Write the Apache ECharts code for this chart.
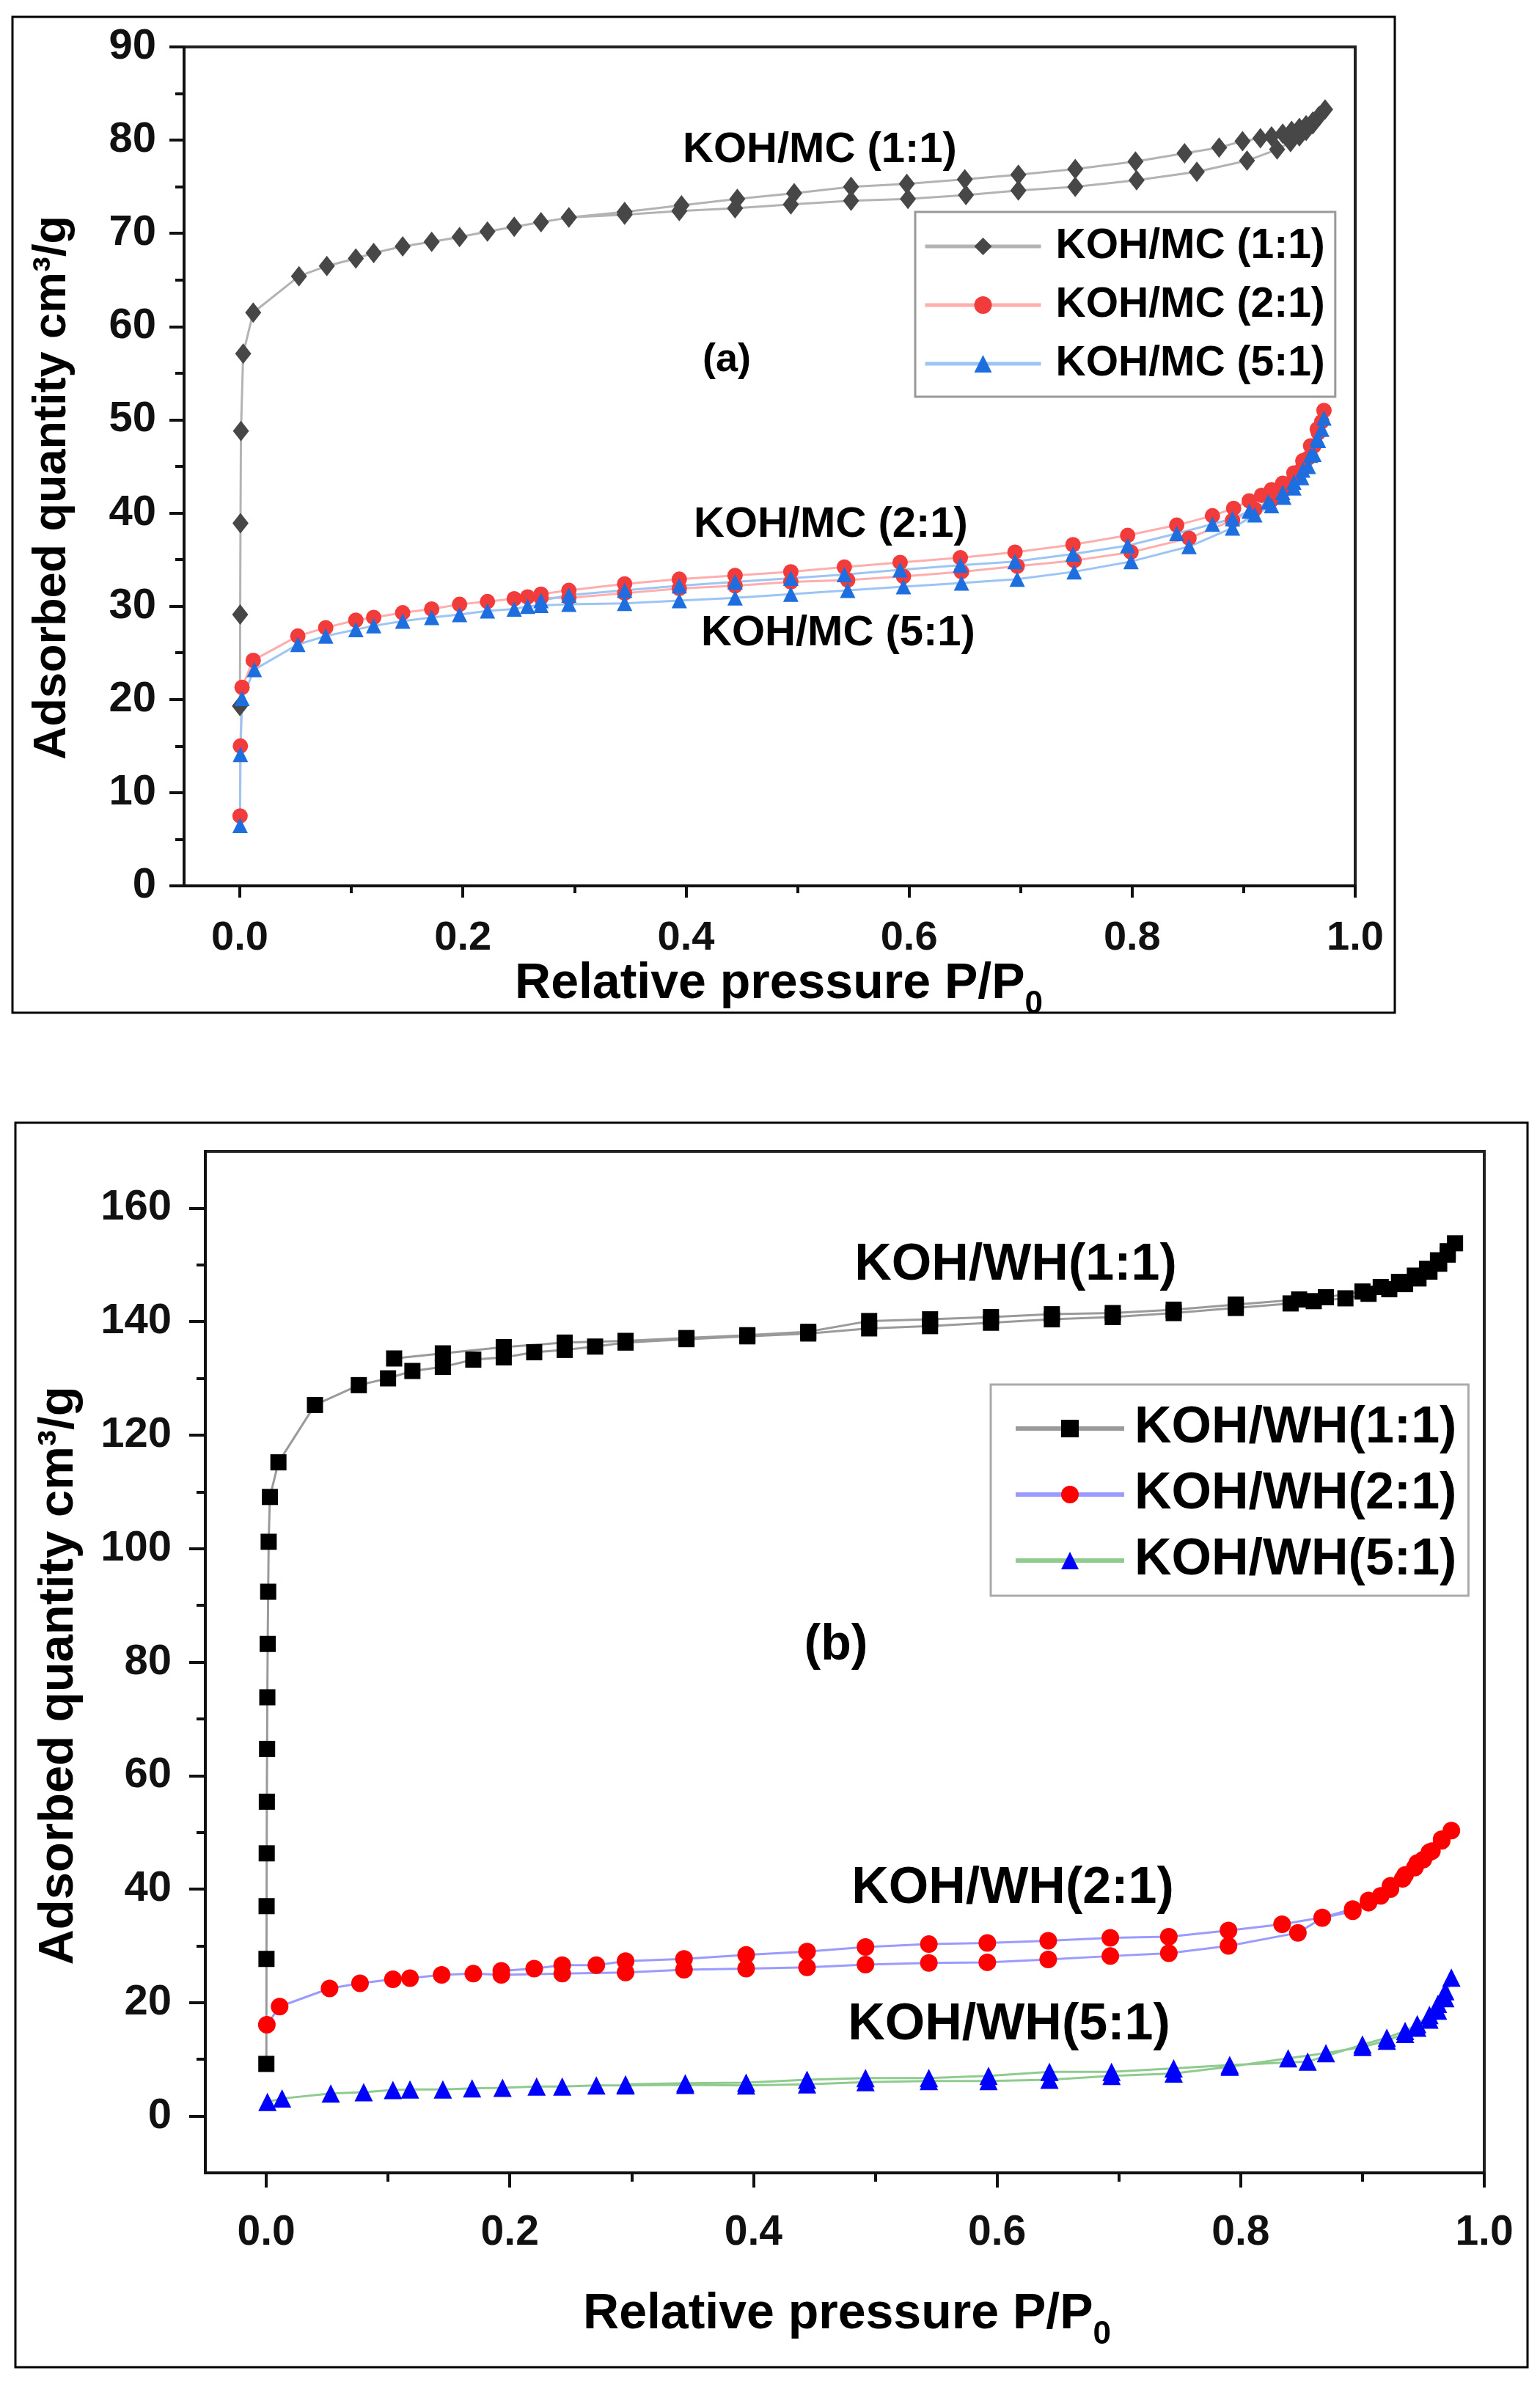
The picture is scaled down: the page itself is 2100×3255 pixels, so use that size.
<!DOCTYPE html>
<html>
<head>
<meta charset="utf-8">
<script src="https://cdn.jsdelivr.net/npm/echarts@6/dist/echarts.min.js"></script>
<style>
html,body{margin:0;padding:0;background:#fff;}
#chart{width:2100px;height:3255px;}
</style>
</head>
<body>
<div id="chart"></div>
<script>
// ---------- DATA (P/P0, adsorbed quantity) ----------
// Panel (a): KOH/MC
const mc11Ads = [[0.0001,19.3],[0.0003,29.1],[0.0006,38.9],[0.001,48.8],[0.003,57.1],[0.012,61.5],[0.053,65.4],[0.078,66.5],[0.104,67.3],[0.12,67.9],[0.146,68.6],[0.172,69.1],[0.197,69.6],[0.222,70.2],[0.246,70.7],[0.27,71.2],[0.295,71.7],[0.345,72.0],[0.394,72.4],[0.444,72.7],[0.494,73.1],[0.548,73.5],[0.599,73.7],[0.651,74.1],[0.698,74.6],[0.749,75.0],[0.804,75.7],[0.858,76.6],[0.903,77.8],[0.93,79.0],[0.942,79.8],[0.95,80.4],[0.956,81.0],[0.962,81.7],[0.967,82.5],[0.973,83.3]];
const mc11Des = [[0.968,82.6],[0.962,82.0],[0.956,81.6],[0.95,81.3],[0.943,81.0],[0.935,80.7],[0.925,80.4],[0.915,80.2],[0.899,79.9],[0.878,79.2],[0.847,78.6],[0.803,77.7],[0.749,76.9],[0.698,76.3],[0.65,75.8],[0.598,75.3],[0.548,75.0],[0.497,74.3],[0.446,73.7],[0.396,73.0],[0.345,72.3],[0.295,71.7]];
const mc21Ads = [[0.0002,7.5],[0.0005,15.0],[0.002,21.3],[0.012,24.2],[0.052,26.8],[0.077,27.7],[0.104,28.5],[0.12,28.8],[0.146,29.3],[0.172,29.7],[0.197,30.2],[0.222,30.5],[0.246,30.8],[0.258,31.0],[0.27,30.9],[0.295,30.9],[0.345,31.4],[0.394,31.9],[0.444,32.2],[0.494,32.6],[0.545,32.8],[0.595,33.2],[0.647,33.7],[0.697,34.3],[0.748,34.9],[0.799,35.8],[0.851,37.3],[0.89,39.2],[0.91,40.4],[0.925,41.4],[0.936,42.5],[0.945,43.6],[0.952,44.7],[0.958,45.9],[0.963,47.2],[0.967,48.6],[0.97,49.8],[0.972,51.0]];
const mc21Des = [[0.966,49.0],[0.96,47.2],[0.953,45.6],[0.945,44.3],[0.935,43.2],[0.925,42.5],[0.916,41.9],[0.905,41.3],[0.891,40.5],[0.872,39.7],[0.84,38.7],[0.796,37.6],[0.747,36.6],[0.695,35.8],[0.646,35.2],[0.592,34.7],[0.542,34.2],[0.494,33.7],[0.444,33.3],[0.394,32.9],[0.345,32.4],[0.295,31.7],[0.27,31.3]];
const mc51Ads = [[0.0002,6.5],[0.0005,14.1],[0.002,20.1],[0.013,23.2],[0.052,25.9],[0.077,26.8],[0.104,27.5],[0.12,27.9],[0.146,28.4],[0.172,28.8],[0.197,29.1],[0.222,29.5],[0.246,29.7],[0.258,30.0],[0.27,30.1],[0.295,30.2],[0.345,30.3],[0.394,30.6],[0.444,30.9],[0.494,31.3],[0.545,31.7],[0.595,32.1],[0.647,32.5],[0.697,32.9],[0.748,33.7],[0.799,34.8],[0.851,36.4],[0.89,38.4],[0.91,39.8],[0.925,40.8],[0.936,41.7],[0.945,42.7],[0.952,43.8],[0.958,45.0],[0.963,46.3],[0.967,47.8],[0.97,49.0],[0.972,50.2]];
const mc51Des = [[0.966,48.0],[0.96,46.2],[0.953,44.6],[0.945,43.3],[0.935,42.2],[0.922,41.2],[0.905,40.2],[0.89,39.4],[0.872,38.8],[0.84,37.8],[0.796,36.5],[0.747,35.6],[0.695,34.8],[0.646,34.4],[0.592,33.9],[0.542,33.4],[0.494,33.0],[0.444,32.6],[0.394,32.2],[0.345,31.7],[0.295,31.2],[0.27,30.6]];

// Panel (b): KOH/WH
const wh11Ads = [[0.0001,9.2],[0.0002,27.7],[0.0003,37.0],[0.0004,46.3],[0.0005,55.4],[0.0007,64.7],[0.0009,73.8],[0.0012,83.2],[0.0016,92.4],[0.002,101.2],[0.003,109.1],[0.01,115.2],[0.04,125.3],[0.076,128.8],[0.1,130.0],[0.12,131.3],[0.145,132.0],[0.17,133.3],[0.195,133.7],[0.22,134.6],[0.245,135.0],[0.27,135.6],[0.295,136.3],[0.345,136.9],[0.395,137.4],[0.445,137.9],[0.495,138.8],[0.545,139.2],[0.595,139.8],[0.645,140.4],[0.695,140.8],[0.745,141.5],[0.796,142.4],[0.841,143.2],[0.86,143.6],[0.886,144.1],[0.905,144.9],[0.922,145.7],[0.935,146.6],[0.946,147.6],[0.955,148.8],[0.963,150.2],[0.97,151.8],[0.976,153.8]];
const wh11Des = [[0.97,152.4],[0.962,150.8],[0.953,149.3],[0.943,148.1],[0.93,147.0],[0.915,146.1],[0.9,145.3],[0.87,144.3],[0.848,143.9],[0.796,143.0],[0.745,142.1],[0.695,141.5],[0.645,141.3],[0.595,140.8],[0.545,140.4],[0.495,140.1],[0.445,138.2],[0.395,137.6],[0.345,137.1],[0.295,136.6],[0.245,136.3],[0.195,135.5],[0.145,134.4],[0.105,133.5]];
const wh21Ads = [[0.0005,16.1],[0.011,19.3],[0.052,22.5],[0.077,23.4],[0.104,24.1],[0.118,24.3],[0.144,24.9],[0.17,25.1],[0.193,24.9],[0.243,25.1],[0.295,25.3],[0.343,25.8],[0.394,26.0],[0.444,26.2],[0.492,26.7],[0.544,27.0],[0.592,27.1],[0.642,27.6],[0.693,28.2],[0.741,28.7],[0.79,30.0],[0.847,32.3],[0.867,34.9],[0.892,36.1],[0.905,37.6],[0.915,38.8],[0.923,40.0],[0.933,41.8],[0.943,43.8],[0.95,45.2],[0.957,46.7],[0.965,48.5],[0.973,50.3]];
const wh21Des = [[0.965,48.8],[0.955,46.5],[0.945,44.6],[0.935,42.5],[0.923,40.6],[0.905,38.0],[0.892,36.5],[0.867,35.0],[0.834,33.8],[0.79,32.7],[0.741,31.6],[0.693,31.4],[0.642,30.9],[0.592,30.5],[0.544,30.3],[0.492,29.8],[0.444,29.0],[0.394,28.4],[0.343,27.7],[0.295,27.3],[0.271,26.6],[0.243,26.6],[0.22,26.0],[0.193,25.6]];
const wh51Ads = [[0.001,2.5],[0.013,3.1],[0.053,4.0],[0.08,4.2],[0.104,4.6],[0.118,4.7],[0.145,4.7],[0.169,4.9],[0.194,5.0],[0.222,5.2],[0.243,5.2],[0.271,5.4],[0.295,5.4],[0.344,5.5],[0.394,5.4],[0.444,5.6],[0.492,6.0],[0.544,6.2],[0.593,6.2],[0.643,6.4],[0.694,7.1],[0.745,7.5],[0.791,8.7],[0.839,10.2],[0.87,11.1],[0.9,12.2],[0.92,13.3],[0.935,14.5],[0.945,15.6],[0.955,17.0],[0.962,18.6],[0.968,20.8],[0.973,24.4]];
const wh51Des = [[0.968,22.0],[0.962,19.8],[0.955,17.8],[0.945,16.2],[0.935,15.0],[0.92,13.8],[0.9,12.6],[0.855,9.6],[0.791,9.0],[0.745,8.4],[0.694,7.8],[0.643,7.8],[0.593,7.1],[0.544,6.7],[0.492,6.7],[0.444,6.4],[0.394,5.9],[0.344,5.8],[0.295,5.6]];

// Tick values / labels
const xTicks = [0, 0.2, 0.4, 0.6, 0.8, 1.0];
const xMinorTicks = [0.1, 0.3, 0.5, 0.7, 0.9];
const yTicksB = [0, 20, 40, 60, 80, 100, 120, 140, 160];
const yMinorTicksB = [10, 30, 50, 70, 90, 110, 130, 150];
const namesA = ['KOH/MC (1:1)', 'KOH/MC (2:1)', 'KOH/MC (5:1)'];
const namesB = ['KOH/WH(1:1)', 'KOH/WH(2:1)', 'KOH/WH(5:1)'];

// ---------- CHART ----------
const FF = '"Liberation Sans", Arial, Helvetica, sans-serif';
const chart = echarts.init(document.getElementById('chart'), null, {renderer: 'canvas'});

function xAxisMain(grid, fs, margin, tickLen) {
  return {
    gridIndex: grid, type: 'value', min: -0.05, max: 1.0, position: 'bottom',
    axisLine: {show: true, onZero: false, lineStyle: {color: '#111', width: 4}},
    axisTick: {show: true, customValues: xTicks, length: tickLen, lineStyle: {color: '#111', width: 4}},
    axisLabel: {show: true, customValues: xTicks, margin: margin, fontSize: fs, fontWeight: 'bold', fontFamily: FF, color: '#111',
      formatter: v => Number(v).toFixed(1)},
    splitLine: {show: false}
  };
}
function xAxisMinor(grid, tickLen) {
  return {
    gridIndex: grid, type: 'value', min: -0.05, max: 1.0, position: 'bottom',
    axisLine: {show: false, onZero: false},
    axisTick: {show: true, customValues: xMinorTicks, length: tickLen, lineStyle: {color: '#111', width: 4}},
    axisLabel: {show: false}, splitLine: {show: false}
  };
}

const option = {
  backgroundColor: '#fff',
  animation: false,
  grid: [
    {left: 251, top: 64, width: 1597, height: 1144, show: true, borderColor: '#222', borderWidth: 4, backgroundColor: 'transparent', outerBoundsMode: 'none'},
    {left: 280, top: 1570, width: 1744, height: 1393, show: true, borderColor: '#222', borderWidth: 4, backgroundColor: 'transparent', outerBoundsMode: 'none'}
  ],
  xAxis: [
    xAxisMain(0, 56, 44, 16),
    xAxisMinor(0, 10),
    xAxisMain(1, 57, 54, 20),
    xAxisMinor(1, 12)
  ],
  yAxis: [
    {gridIndex: 0, type: 'value', min: 0, max: 90, interval: 10, position: 'left',
     axisLine: {show: true, onZero: false, lineStyle: {color: '#111', width: 4}},
     axisTick: {show: true, length: 20, lineStyle: {color: '#111', width: 4}},
     minorTick: {show: true, splitNumber: 2, length: 12, lineStyle: {color: '#111', width: 4}},
     axisLabel: {margin: 38, fontSize: 58, fontWeight: 'bold', fontFamily: FF, color: '#111'},
     splitLine: {show: false}},
    {gridIndex: 1, type: 'value', min: -10, max: 170, position: 'left',
     axisLine: {show: true, onZero: false, lineStyle: {color: '#111', width: 4}},
     axisTick: {show: true, customValues: yTicksB, length: 22, lineStyle: {color: '#111', width: 4}},
     axisLabel: {show: true, customValues: yTicksB, margin: 46, fontSize: 58, fontWeight: 'bold', fontFamily: FF, color: '#111'},
     splitLine: {show: false}},
    {gridIndex: 1, type: 'value', min: -10, max: 170, position: 'left',
     axisLine: {show: false, onZero: false},
     axisTick: {show: true, customValues: yMinorTicksB, length: 12, lineStyle: {color: '#111', width: 4}},
     axisLabel: {show: false}, splitLine: {show: false}}
  ],
  legend: [
    {data: namesA, orient: 'vertical', left: 1248, top: 289, padding: [13, 14, 11, 11],
     itemWidth: 158, itemHeight: 30, itemGap: 12,
     borderColor: '#999', borderWidth: 3, backgroundColor: '#fff',
     lineStyle: {width: 5},
     textStyle: {fontSize: 57, fontWeight: 'bold', fontFamily: FF, color: '#000', lineHeight: 68, padding: [0, 0, 0, 15]}},
    {data: namesB, orient: 'vertical', left: 1351, top: 1888, padding: [22, 16, 10, 31],
     itemWidth: 148, itemHeight: 30, itemGap: 14,
     borderColor: '#aaa', borderWidth: 3, backgroundColor: '#fff',
     lineStyle: {width: 6},
     textStyle: {fontSize: 70, fontWeight: 'bold', fontFamily: FF, color: '#000', lineHeight: 76, padding: [0, 0, 0, 9]}}
  ],
  series: [
    {name: namesA[0], type: 'line', xAxisIndex: 0, yAxisIndex: 0, data: mc11Ads.concat(mc11Des),
     symbol: 'diamond', symbolSize: [22, 28], itemStyle: {color: '#474747'}, lineStyle: {color: '#b3b3b3', width: 3}},
    {name: namesA[1], type: 'line', xAxisIndex: 0, yAxisIndex: 0, data: mc21Ads.concat(mc21Des),
     symbol: 'circle', symbolSize: 21, itemStyle: {color: '#f23b3b'}, lineStyle: {color: '#ffadad', width: 3}},
    {name: namesA[2], type: 'line', xAxisIndex: 0, yAxisIndex: 0, data: mc51Ads.concat(mc51Des),
     symbol: 'triangle', symbolSize: 21, itemStyle: {color: '#1f6ee0'}, lineStyle: {color: '#9cc4f5', width: 3}},
    {name: namesB[0], type: 'line', xAxisIndex: 2, yAxisIndex: 1, data: wh11Ads.concat(wh11Des),
     symbol: 'rect', symbolSize: 22, itemStyle: {color: '#000'}, lineStyle: {color: '#9a9a9a', width: 3}},
    {name: namesB[1], type: 'line', xAxisIndex: 2, yAxisIndex: 1, data: wh21Ads.concat(wh21Des),
     symbol: 'circle', symbolSize: 24, itemStyle: {color: '#ff0000'}, lineStyle: {color: '#9b9bff', width: 3}},
    {name: namesB[2], type: 'line', xAxisIndex: 2, yAxisIndex: 1, data: wh51Ads.concat(wh51Des),
     symbol: 'triangle', symbolSize: 25, itemStyle: {color: '#0000ff'}, lineStyle: {color: '#8fcb8f', width: 3}}
  ],
  graphic: [
    // panel frames
    {type: 'rect', shape: {x: 17, y: 23, width: 1885, height: 1358}, style: {fill: 'none', stroke: '#000', lineWidth: 3}, silent: true},
    {type: 'rect', shape: {x: 21, y: 1531, width: 2062, height: 1697}, style: {fill: 'none', stroke: '#000', lineWidth: 3}, silent: true},
    // annotations panel a
    {type: 'text', x: 1118, y: 205, style: {text: 'KOH/MC (1:1)', font: 'bold 58px ' + FF, fill: '#000', textAlign: 'center', textVerticalAlign: 'middle', align: 'center', verticalAlign: 'middle'}},
    {type: 'text', x: 991, y: 491, style: {text: '(a)', font: 'bold 54px ' + FF, fill: '#000', textAlign: 'center', textVerticalAlign: 'middle', align: 'center', verticalAlign: 'middle'}},
    {type: 'text', x: 1133, y: 716, style: {text: 'KOH/MC (2:1)', font: 'bold 58px ' + FF, fill: '#000', textAlign: 'center', textVerticalAlign: 'middle', align: 'center', verticalAlign: 'middle'}},
    {type: 'text', x: 1143, y: 864, style: {text: 'KOH/MC (5:1)', font: 'bold 58px ' + FF, fill: '#000', textAlign: 'center', textVerticalAlign: 'middle', align: 'center', verticalAlign: 'middle'}},
    // annotations panel b
    {type: 'text', x: 1385, y: 1726, style: {text: 'KOH/WH(1:1)', font: 'bold 70px ' + FF, fill: '#000', textAlign: 'center', textVerticalAlign: 'middle', align: 'center', verticalAlign: 'middle'}},
    {type: 'text', x: 1140, y: 2244, style: {text: '(b)', font: 'bold 68px ' + FF, fill: '#000', textAlign: 'center', textVerticalAlign: 'middle', align: 'center', verticalAlign: 'middle'}},
    {type: 'text', x: 1381, y: 2576, style: {text: 'KOH/WH(2:1)', font: 'bold 70px ' + FF, fill: '#000', textAlign: 'center', textVerticalAlign: 'middle', align: 'center', verticalAlign: 'middle'}},
    {type: 'text', x: 1376, y: 2762, style: {text: 'KOH/WH(5:1)', font: 'bold 70px ' + FF, fill: '#000', textAlign: 'center', textVerticalAlign: 'middle', align: 'center', verticalAlign: 'middle'}},
    // axis titles
    {type: 'text', x: 1062, y: 1342, style: {text: '{m|Relative pressure P/P}{s|0}', textAlign: 'center', textVerticalAlign: 'middle', align: 'center', verticalAlign: 'middle',
      rich: {m: {fontSize: 68, fontWeight: 'bold', fontFamily: FF, fill: '#000', color: '#000', lineHeight: 100},
             s: {fontSize: 44, fontWeight: 'bold', fontFamily: FF, fill: '#000', color: '#000', lineHeight: 44, verticalAlign: 'bottom'}}}},
    {type: 'text', x: 1155, y: 3156, style: {text: '{m|Relative pressure P/P}{s|0}', textAlign: 'center', textVerticalAlign: 'middle', align: 'center', verticalAlign: 'middle',
      rich: {m: {fontSize: 68, fontWeight: 'bold', fontFamily: FF, fill: '#000', color: '#000', lineHeight: 100},
             s: {fontSize: 44, fontWeight: 'bold', fontFamily: FF, fill: '#000', color: '#000', lineHeight: 44, verticalAlign: 'bottom'}}}},
    {type: 'text', x: 72, y: 665, rotation: Math.PI / 2, style: {text: 'Adsorbed quantity cm³/g', font: 'bold 63px ' + FF, fill: '#000', textAlign: 'center', textVerticalAlign: 'middle', align: 'center', verticalAlign: 'middle'}},
    {type: 'text', x: 81, y: 2285, rotation: Math.PI / 2, style: {text: 'Adsorbed quantity cm³/g', font: 'bold 67px ' + FF, fill: '#000', textAlign: 'center', textVerticalAlign: 'middle', align: 'center', verticalAlign: 'middle'}}
  ]
};
chart.setOption(option);
</script>
</body>
</html>
